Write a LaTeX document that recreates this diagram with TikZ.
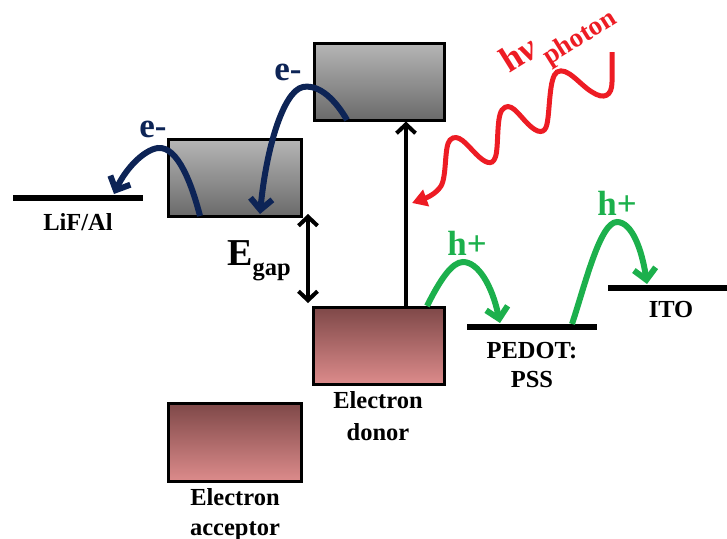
\documentclass[tikz,border=0pt]{standalone}
\usepackage{fontspec}
\setmainfont{Liberation Serif}
\usetikzlibrary{arrows.meta,calc}
\definecolor{navy}{HTML}{0D2456}
\definecolor{hgreen}{HTML}{1CB04C}
\definecolor{pred}{HTML}{ED1C24}
\definecolor{lumotop}{HTML}{B6B6B6}
\definecolor{lumobot}{HTML}{6A6A6A}
\definecolor{homotop}{HTML}{7E4848}
\definecolor{homobot}{HTML}{DC8B8B}
\tikzset{
  lumo/.style={draw=black, line width=3pt, inner sep=0pt, outer sep=0pt, minimum height=77pt, top color=lumotop, bottom color=lumobot},
  homo/.style={draw=black, line width=3pt, inner sep=0pt, outer sep=0pt, minimum height=77pt, top color=homotop, bottom color=homobot},
  level/.style={fill=black, inner sep=0pt, outer sep=0pt, minimum height=6pt},
  lbl/.style={inner sep=0pt, align=center, font=\fontsize{24.5}{31}\selectfont\bfseries},
  elbl/.style={inner sep=0pt, text=navy, font=\fontsize{35}{35}\selectfont\bfseries},
  hlbl/.style={inner sep=0pt, text=hgreen, font=\fontsize{35}{35}\selectfont\bfseries},
  earrow/.style={draw=navy, line width=6pt, -{Straight Barb[length=11pt,width=22pt]}},
  harrow/.style={draw=hgreen, line width=6pt, -{Straight Barb[length=11pt,width=22pt]}},
  blk/.style={draw=black, line width=4pt},
  barb/.tip={Straight Barb[length=9pt,width=19pt]},
}
\begin{document}
\begin{tikzpicture}[x=1pt,y=-1pt]
\useasboundingbox (0,0) rectangle (727,538);

% energy levels
\node[lumo, minimum width=130pt] (lumoD) at (379,81.5) {};
\node[lumo, minimum width=133pt] (lumoA) at (234.5,177.5) {};
\node[homo, minimum width=131pt] (homoD) at (378.5,345.5) {};
\node[homo, minimum width=133pt, minimum height=78pt] (homoA) at (234.5,442) {};
\node[level, minimum width=130pt] (lif) at (78,198) {};
\node[level, minimum width=130pt] (pedot) at (532,327) {};
\node[level, minimum width=120pt] (ito) at (668,288) {};

% labels
\node[lbl, anchor=base] (liflbl) at (78,230) {LiF/Al};
\node[lbl, anchor=north, font=\fontsize{24.5}{29}\selectfont\bfseries] (pedotlbl) at (532,342) {PEDOT:\\PSS};
\node[lbl, anchor=base] (itolbl) at (671,317) {ITO};
\node[lbl, anchor=north, font=\fontsize{24.5}{32}\selectfont\bfseries] (donorlbl) at (378,391) {Electron\\donor};
\node[lbl, anchor=north, font=\fontsize{24.5}{30}\selectfont\bfseries] (acclbl) at (235,488) {Electron\\acceptor};
\node[inner sep=0pt, anchor=base west, font=\bfseries] (egap) at (227,265)
  {\fontsize{38}{38}\selectfont E\raisebox{-10pt}{\fontsize{24.5}{24.5}\selectfont gap}};

% excitation arrow and gap arrow
\draw[blk, -barb, shorten >=1.5pt] ($(homoD.north west)+(93,-1.5)$) -- ($(lumoD.south west)+(92,0)$);
\draw[blk, barb-barb] ($(lumoA.south east)+(7,-2)$) -- ($(homoD.north west)+(-5,-4)$);

% electron transfer
\draw[earrow] ($(lumoD.south west)+(33,0)$) .. controls (336,101) and (320,84) .. (303,87)
  .. controls (283,91) and (266,150) .. ($(lumoA.south west)+(92,-2)$);
\node[elbl, anchor=base] (e1) at (288,80) {e-};
\draw[earrow] ($(lumoA.south west)+(32,0)$) .. controls (192,185) and (178,146) .. (158,148)
  .. controls (143,150) and (125,170) .. ($(lif.north west)+(101,-1)$);
\node[elbl, anchor=base] (e2) at (153,137) {e-};

% hole transfer
\draw[harrow] ($(homoD.north east)+(-17,-1)$) .. controls (440,280) and (452,262) .. (463,262)
  .. controls (478,262) and (492,285) .. ($(pedot.north west)+(33,-1)$);
\node[hlbl, anchor=base] (h1) at (467,255) {h+};
\draw[harrow] ($(pedot.north west)+(105,0)$) .. controls (585,285) and (600,222) .. (617,222)
  .. controls (632,222) and (642,250) .. ($(ito.north west)+(39,-1)$);
\node[hlbl, anchor=base] (h2) at (617,215) {h+};

% photon
\coordinate (phsrc) at (612,52);
\coordinate (phhit) at (412,203);
\draw[pred, line width=5pt, -{Triangle[length=15pt,width=17pt]}] (phsrc) -- (612,82)
  .. controls (612,96) and (604,100) .. (592,92)
  .. controls (580,85) and (567,66) .. (557,72)
  .. controls (549,77) and (550,110) .. (547,124)
  .. controls (545,134) and (538,134) .. (528,124)
  .. controls (518,114) and (510,100) .. (502,110)
  .. controls (496,118) and (499,150) .. (495,158)
  .. controls (492,166) and (485,163) .. (476,154)
  .. controls (467,145) and (458,132) .. (450,140)
  .. controls (444,146) and (447,176) .. (441,186)
  .. controls (436,194) and (426,198) .. (phhit);
\node[inner sep=0pt, anchor=base west, rotate=32, text=pred, font=\bfseries] (hnu) at (509,74)
  {\fontsize{36}{36}\selectfont h\textit{ν}\kern2pt\raisebox{-14pt}{\fontsize{27}{27}\selectfont photon}};
\end{tikzpicture}
\end{document}
